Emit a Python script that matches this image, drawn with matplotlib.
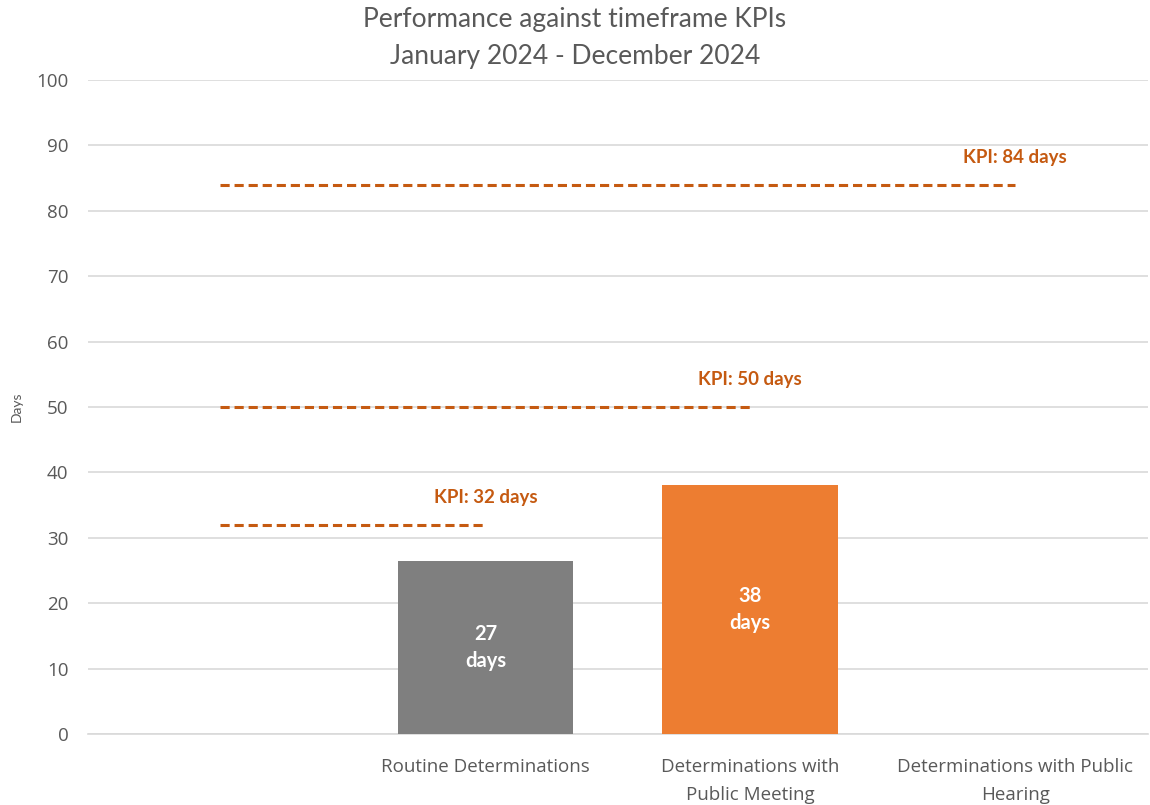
import matplotlib.pyplot as plt
import numpy as np

# datos del grafico
categorias = ["", "Routine Determinations", "Determinations with\nPublic Meeting",
              "Determinations with Public\nHearing"]
dias = [np.nan, 26.5, 38, np.nan]
etiquetas_barras = ["", "27\ndays", "38\ndays", ""]
colores_barras = ["#7F7F7F", "#7F7F7F", "#ED7D31", "#ED7D31"]
kpis = [32, 50, 84]
kpi_fin = [1, 2, 3]  # categoria donde termina cada linea KPI

plt.rcParams['font.family'] = ['Lato', 'DejaVu Sans']

fig = plt.figure(figsize=(11.5, 8.05), dpi=100)
ax = fig.add_axes([0.0765, 0.0882, 0.9215, 0.8124])

x = np.arange(len(categorias))
ax.bar(x, dias, width=0.663, color=colores_barras, zorder=3)

for i, v in enumerate(dias):
    if not np.isnan(v):
        ax.text(x[i], v / 2, etiquetas_barras[i], ha='center', va='center',
                color='white', fontsize=14.5, fontweight='bold', linespacing=1.45, zorder=4)

for k, fin in zip(kpis, kpi_fin):
    ax.plot([0, fin], [k, k], color='#C55A11', linestyle=(0, (3, 1.6)), linewidth=2.2, zorder=4)
    ax.text(fin, k + 4.2, f"KPI: {k} days", ha='center', va='center',
            color='#C55A11', fontsize=13.5, fontweight='bold')

ax.set_xlim(-0.5, 3.5)
ax.set_ylim(0, 100)
ax.set_yticks(range(0, 101, 10))
ax.set_xticks(x)
ax.set_xticklabels(categorias, fontsize=13.5, color='#595959', linespacing=1.75,
                   family=['Open Sans', 'DejaVu Sans'])
for t in ax.get_yticklabels():
    t.set_family(['Open Sans', 'DejaVu Sans'])
ax.tick_params(axis='both', length=0, colors='#595959')
ax.tick_params(axis='y', labelsize=13.5, pad=14)
ax.tick_params(axis='x', pad=17)
ax.yaxis.grid(True, color='#D9D9D9', linewidth=1.2)
ax.set_axisbelow(True)
for s in ['top', 'right', 'left']:
    ax.spines[s].set_visible(False)
ax.spines['bottom'].set_color('#D9D9D9')
ax.spines['bottom'].set_linewidth(1.2)

ax.set_ylabel("Days", fontsize=10, color='#595959')
ax.yaxis.set_label_coords(-0.062, 0.5)

fig.text(0.5, 0.976, "Performance against timeframe KPIs", ha='center', va='center',
         fontsize=19, color='#595959')
fig.text(0.5, 0.93, "January 2024 - December 2024", ha='center', va='center',
         fontsize=19, color='#595959')

fig.savefig("out.png", dpi=100)
